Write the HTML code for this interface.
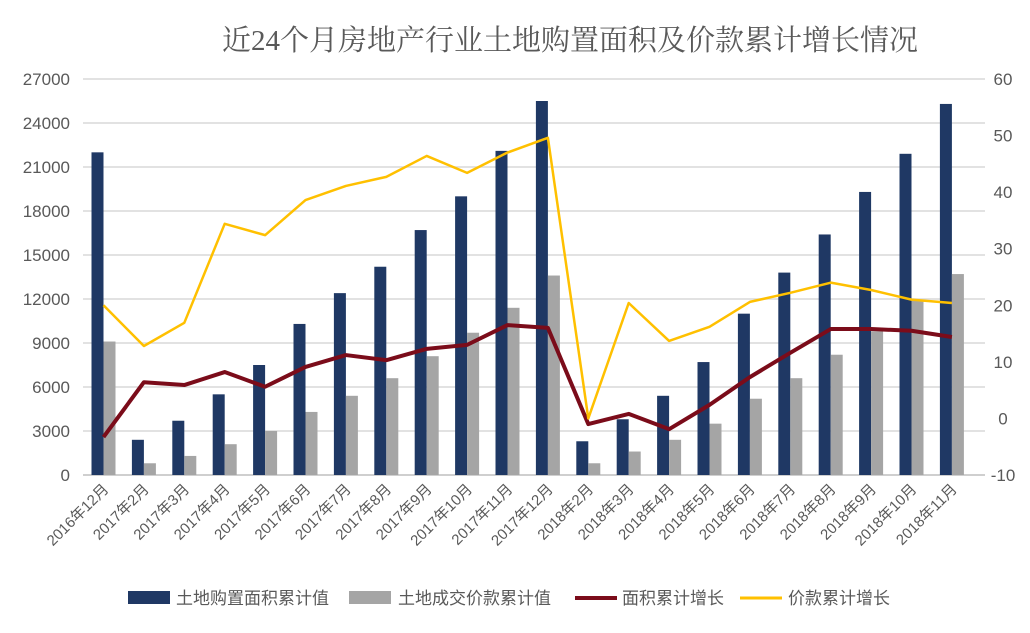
<!DOCTYPE html>
<html><head><meta charset="utf-8"><style>
body{margin:0;background:#fff;}
svg text{font-family:"Liberation Sans","Noto Sans CJK SC",sans-serif;}
</style></head><body>
<svg id="chart" width="1030" height="628" xmlns="http://www.w3.org/2000/svg">
<rect width="1030" height="628" fill="#fff"/>
<text x="570" y="50" text-anchor="middle" font-size="29" fill="#595959" style="font-family:'Liberation Serif','Noto Serif CJK SC',serif">近24个月房地产行业土地购置面积及价款累计增长情况</text>
<g id="grid"></g><g id="bars"></g><g id="lines"></g><g id="axes"></g>
<g id="legend" transform="translate(0,598)">
<rect x="128" y="-7" width="42" height="13" fill="#1f3864"/>
<text x="176" y="6" font-size="17" fill="#595959">土地购置面积累计值</text>
<rect x="349" y="-7" width="42" height="13" fill="#a5a5a5"/>
<text x="398" y="6" font-size="17" fill="#595959">土地成交价款累计值</text>
<line x1="575" y1="0" x2="617" y2="0" stroke="#7b0c1a" stroke-width="4"/>
<text x="622" y="6" font-size="17" fill="#595959">面积累计增长</text>
<line x1="740" y1="0" x2="782" y2="0" stroke="#ffc000" stroke-width="3"/>
<text x="788" y="6" font-size="17" fill="#595959">价款累计增长</text>
</g>
</svg>
<script>
const categories=["2016年12月","2017年2月","2017年3月","2017年4月","2017年5月","2017年6月","2017年7月","2017年8月","2017年9月","2017年10月","2017年11月","2017年12月","2018年2月","2018年3月","2018年4月","2018年5月","2018年6月","2018年7月","2018年8月","2018年9月","2018年10月","2018年11月"];
const areaValues=[22000,2400,3700,5500,7500,10300,12400,14200,16700,19000,22100,25500,2300,3800,5400,7700,11000,13800,16400,19300,21900,25300];
const priceValues=[9100,800,1300,2100,3000,4300,5400,6600,8100,9700,11400,13600,800,1600,2400,3500,5200,6600,8200,9800,11900,13700];
const areaGrowth=[-3.3,6.4,5.9,8.2,5.6,9.1,11.2,10.3,12.3,13.0,16.5,16.0,-1.0,0.8,-1.9,2.4,7.3,11.6,15.8,15.8,15.5,14.4];
const priceGrowth=[20.0,12.8,16.9,34.4,32.4,38.6,41.1,42.7,46.4,43.4,47.0,49.6,0.0,20.4,13.7,16.2,20.6,22.2,24.0,22.7,21.0,20.4];
const leftTicks=[0,3000,6000,9000,12000,15000,18000,21000,24000,27000];
const rightTicks=[-10,0,10,20,30,40,50,60];
const NS="http://www.w3.org/2000/svg";
const plotTop=79,plotBot=475,plotL=83.3,band=40.4;
const yL=v=>plotBot-(v/27000)*(plotBot-plotTop);
const yR=v=>plotBot-((v+10)/70)*(plotBot-plotTop);
const xC=i=>plotL+band*(i+0.5);
function mk(tag,attrs,parent,text){const e=document.createElementNS(NS,tag);for(const k in attrs)e.setAttribute(k,attrs[k]);if(text!==undefined)e.textContent=text;document.getElementById(parent).appendChild(e);return e;}
leftTicks.forEach(t=>{
  const g=mk('line',{x1:83,x2:985,y1:yL(t),y2:yL(t),stroke:t===0?'#bfbfbf':'#d9d9d9','stroke-width':1.5},'grid');
  
  
  const tx=mk('text',{x:70,y:yL(t)+6,'text-anchor':'end','font-size':17,fill:'#595959'},'axes',t);
  
  
});
rightTicks.forEach(t=>{
  const tx=mk('text',{x:1003,y:yR(t)+6,'text-anchor':'middle','font-size':17,fill:'#595959'},'axes',t);
  
  
});
categories.forEach((c,i)=>{
  const x=xC(i);
  const b1=mk('rect',{x:x-12,y:yL(areaValues[i]),width:12,height:plotBot-yL(areaValues[i]),fill:'#1f3864'},'bars');
  
  
  const b2=mk('rect',{x:x,y:yL(priceValues[i]),width:12,height:plotBot-yL(priceValues[i]),fill:'#a5a5a5'},'bars');
  
  
  const tx=mk('text',{x:x+6,y:490,'text-anchor':'end','font-size':15,fill:'#595959',transform:`rotate(-45 ${x+6} 490)`},'axes',c);
  
  
});
const l1=mk('polyline',{points:areaGrowth.map((v,i)=>xC(i)+','+yR(v)).join(' '),fill:'none',stroke:'#7b0c1a','stroke-width':4,'stroke-linejoin':'round'},'lines');


const l2=mk('polyline',{points:priceGrowth.map((v,i)=>xC(i)+','+yR(v)).join(' '),fill:'none',stroke:'#ffc000','stroke-width':2.5,'stroke-linejoin':'round'},'lines');


</script>
</body></html>
